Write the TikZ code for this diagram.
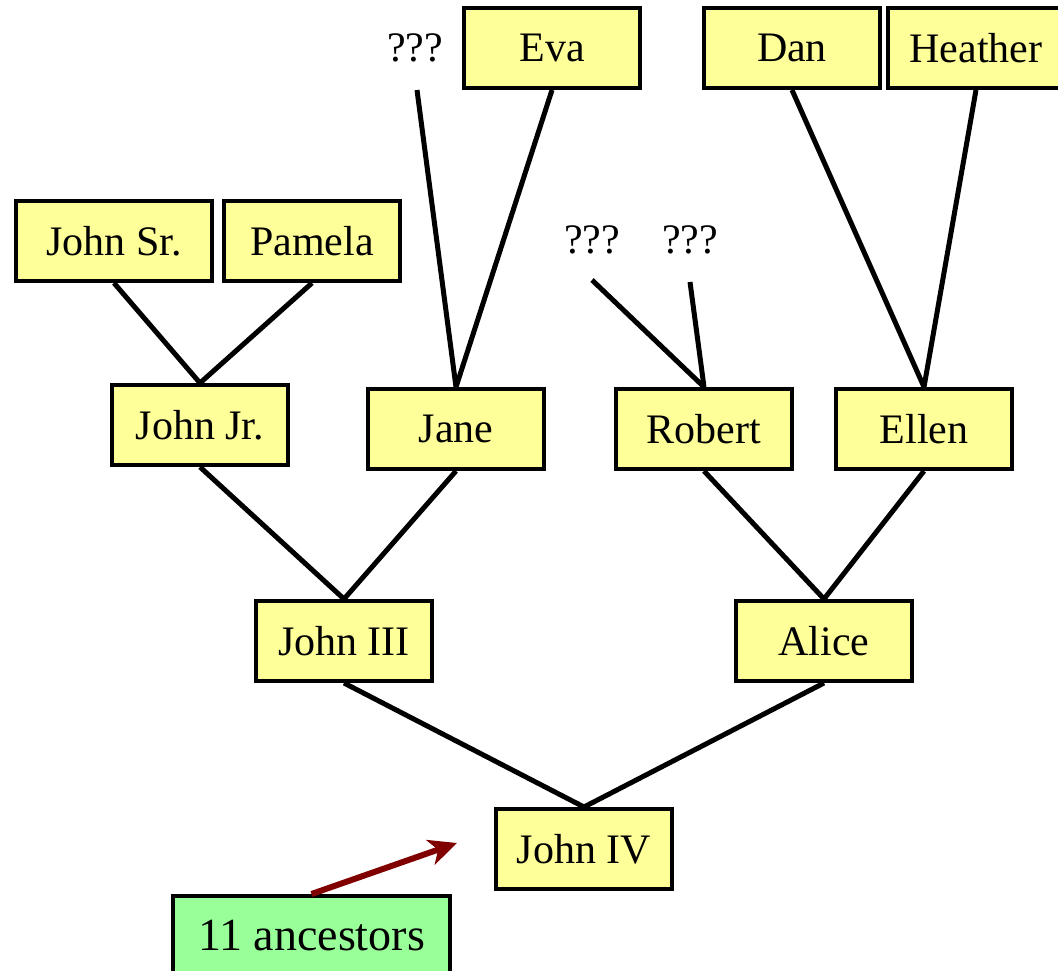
\documentclass[tikz,border=0pt]{standalone}
\usepackage{fontspec}
\setmainfont{Liberation Serif}
\usetikzlibrary{arrows.meta}
\definecolor{boxyellow}{RGB}{255,255,153}
\definecolor{boxgreen}{RGB}{153,255,153}
\definecolor{arrowred}{RGB}{128,0,0}
\begin{document}
\begin{tikzpicture}[x=1pt, y=-1pt,
  person/.style = {draw = black, fill = boxyellow, line width = 4pt, minimum width = 176pt, minimum height = 80pt, inner sep = 0pt, font = \fontsize{42}{46}\selectfont},
  unknown/.style = {inner sep = 0pt, font = \fontsize{42}{46}\selectfont},
  link/.style = {draw = black, line width = 5pt}]
\useasboundingbox (0,0) rectangle (1058,970);
% top row
\node[person] (eva) at (552,48) {Eva};
\node[person] (dan) at (792,48) {Dan};
\node[person] (heather) at (976,48) {Heather};
\node[unknown] (q1) at (415,48) {???};
\node[person, minimum width = 196pt] (jsr) at (114,241) {John Sr.};
\node[person] (pamela) at (312,241) {Pamela};
\node[unknown] (q2) at (592,240) {???};
\node[unknown] (q3) at (690,240) {???};
% parents of parents
\node[person] (jjr) at (200,425) {John Jr.};
\node[person] (jane) at (456,429) {Jane};
\node[person] (robert) at (704,429) {Robert};
\node[person] (ellen) at (924,429) {Ellen};
% parents
\node[person] (j3) at (344,641) {John III};
\node[person] (alice) at (824,641) {Alice};
\node[person] (j4) at (584,849) {John IV};
\node[person, fill = boxgreen, minimum width = 277pt, font = \fontsize{46}{50}\selectfont] (count) at (311.5,936) {11 ancestors};
% loose ends
\coordinate (q1end) at (417,90);
\coordinate (q2end) at (592,280);
\coordinate (q3end) at (690,282);
\coordinate (tip) at (457,843);
\foreach \a/\b in {jsr/jjr, pamela/jjr, eva/jane, dan/ellen, heather/ellen, jjr/j3, jane/j3, robert/alice, ellen/alice, j3/j4, alice/j4}
  \draw[link] (\a.south) -- (\b.north);
\foreach \a/\b in {q1end/jane, q2end/robert, q3end/robert}
  \draw[link] (\a) -- (\b.north);
\draw[draw = arrowred, line width = 6pt, -{Stealth[length=28pt, width=26pt, inset=8pt]}] (count.north) -- (tip);
\end{tikzpicture}
\end{document}
